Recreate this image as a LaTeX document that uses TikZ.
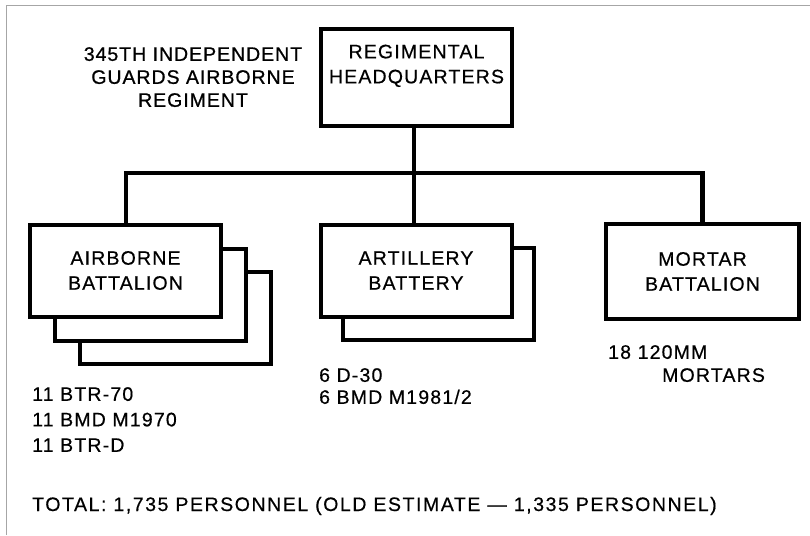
\documentclass[tikz,border=0pt]{standalone}
\usepackage{fontspec}
\setmainfont[LetterSpace=6,FakeBold=0.5]{Liberation Sans}
\newfontfamily\titlefont[LetterSpace=5,FakeBold=0.8]{Liberation Sans}
\newfontfamily\totalfont[LetterSpace=8,FakeBold=0.5]{Liberation Sans}
\begin{document}
\begin{tikzpicture}[x=1pt,y=-1pt,
  lab/.style={inner sep=0pt, font=\fontsize{19.5}{23}\selectfont},
  box/.style={draw=black, line width=4pt, fill=white, minimum width=191pt, minimum height=92pt,
    inner sep=0pt, align=center, font=\fontsize{19.5}{25}\selectfont},
  conn/.style={line width=4.5pt, line join=miter, line cap=rect},
  frame/.style={draw=gray!70, line width=0.8pt}]
\useasboundingbox (0,0) rectangle (810,535);
% faint frame
\draw[frame] (6,535) -- (6,5) -- (810,5);
% title
\node[lab, align=center, anchor=north, font=\titlefont\fontsize{19.5}{23}\selectfont] (title) at (193,47) {345TH INDEPENDENT\\GUARDS AIRBORNE\\REGIMENT};
% HQ
\node[box, minimum width=191pt, minimum height=97pt] (hq) at (416.5,77.5) {REGIMENTAL\\HEADQUARTERS\\[2pt]};
% airborne stack
\node[box] (ab3) at (175.5,318) {};
\node[box] (ab2) at (150.5,294.5) {};
\node[box] (ab) at (125.5,270.5) {AIRBORNE\\BATTALION};
% artillery stack
\node[box] (ar2) at (438.5,294) {};
\node[box] (ar) at (416,270.5) {ARTILLERY\\BATTERY};
% mortar
\node[box, minimum width=193pt, minimum height=95pt] (mo) at (702.5,271.5) {MORTAR\\BATTALION};
% connectors
\coordinate (j) at (414,173);
\draw[conn] (hq.south -| j) -- (j);
\draw[conn] (ab.north -| 126,0) |- (j) -| (mo.north);
\draw[conn] (j) -- (ar.north -| j);
% equipment lists
\node[lab, anchor=north west, align=left] (ablist) at (32,387) {11 BTR-70\\[2.5pt]11 BMD M1970\\[2.5pt]11 BTR-D};
\node[lab, anchor=north west, align=left] (arlist) at (319,368) {6 D-30\\[-1pt]6 BMD M1981/2};
\node[lab, anchor=north west] (mo1) at (608,345) {18 120MM};
\node[lab, anchor=north west] (mo2) at (662,368) {MORTARS};
% total
\node[lab, anchor=base west, font=\totalfont\fontsize{19.5}{23}\selectfont] (total) at (32,511) {TOTAL: 1,735 PERSONNEL (OLD ESTIMATE — 1,335 PERSONNEL)};
\end{tikzpicture}
\end{document}
